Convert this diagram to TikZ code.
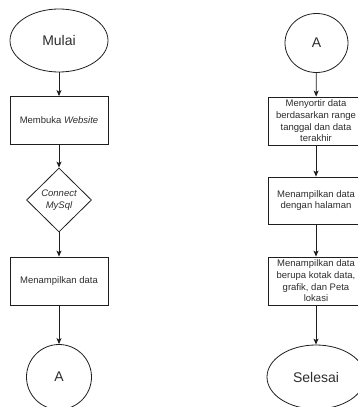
\documentclass[tikz,border=0pt]{standalone}
\usepackage{fontspec}
\setmainfont{Liberation Sans}
\usetikzlibrary{shapes.geometric,arrows.meta}
\definecolor{ink}{RGB}{45,45,45}
\definecolor{edge}{RGB}{30,30,30}
\begin{document}
\begin{tikzpicture}[x=1pt,y=-1pt,
  every node/.style={text=ink,draw=edge,line width=0.8pt,inner sep=0pt,align=center},
  term/.style={ellipse,minimum width=98pt,minimum height=63pt,font=\fontsize{14}{16}\selectfont},
  conn/.style={ellipse,font=\fontsize{14}{16}\selectfont},
  proc/.style={rectangle,minimum width=98pt,minimum height=48pt,font=\fontsize{9.5}{11.7}\selectfont},
  procr/.style={rectangle,minimum width=96pt,minimum height=48pt,font=\fontsize{9.5}{11.7}\selectfont},
  dec/.style={diamond,minimum width=65pt,minimum height=64pt,font=\fontsize{9.5}{11.7}\selectfont\itshape},
  flow/.style={draw=edge,line width=0.8pt,-{Stealth[length=6pt,width=5pt,inset=1.5pt]}}]
\useasboundingbox (0,0) rectangle (358,407);
\clip (0,0) rectangle (358,407);
% left column
\node[term] (mulai) at (59,40.5) {Mulai};
\node[proc] (web) at (59,120.5) {Membuka \textit{Website}};
\node[dec] (sql) at (59,200) {Connect\\MySql};
\node[proc] (tampil) at (59,281) {Menampilkan data};
\node[conn,minimum width=65pt,minimum height=65pt] (a1) at (59,377) {A};
\draw[flow] (mulai) -- (web);
\draw[flow] (web) -- (sql);
\draw[flow] (sql) -- (tampil);
\draw[flow] (tampil) -- (a1);
% right column
\node[conn,minimum width=63pt,minimum height=59pt] (a2) at (316.5,43) {A};
\node[procr] (sort) at (316,121) {Menyortir data\\berdasarkan range\\tanggal dan data\\terakhir};
\node[procr,minimum height=47pt] (hal) at (316,200.5) {Menampilkan data\\dengan halaman};
\node[procr] (kotak) at (316,281) {Menampilkan data\\berupa kotak data,\\grafik, dan Peta\\lokasi};
\node[term,minimum height=64pt] (selesai) at (316,377) {Selesai};
\draw[flow] (a2) -- (sort);
\draw[flow] (sort) -- (hal);
\draw[flow] (hal) -- (kotak);
\draw[flow] (kotak) -- (selesai);
\end{tikzpicture}
\end{document}
